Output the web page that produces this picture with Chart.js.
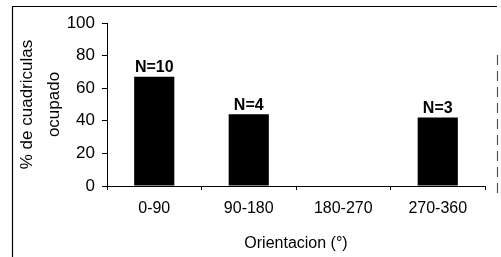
<!DOCTYPE html>
<html><head><meta charset="utf-8">
<script src="https://cdn.jsdelivr.net/npm/chart.js@4/dist/chart.umd.min.js"></script>
<style>html,body{margin:0;padding:0;background:#fff}canvas{display:block}</style>
</head><body>
<canvas id="c" width="501" height="257"></canvas>
<script>
const categories = ['0-90', '90-180', '180-270', '270-360'];
const values = [67, 44, 0, 42];
const barLabels = ['N=10', 'N=4', '', 'N=3'];
const yTicks = [0, 20, 40, 60, 80, 100];

const FONT = "'Liberation Sans', Arial, sans-serif";

const framePlugin = {
  id: 'frame',
  afterDraw(chart) {
    const ctx = chart.ctx;
    ctx.save();
    ctx.strokeStyle = '#000';
    ctx.lineWidth = 1.2;
    ctx.beginPath();
    ctx.moveTo(12.5, 257);
    ctx.lineTo(12.5, 6.5);
    ctx.lineTo(497, 6.5);
    ctx.stroke();
    ctx.setLineDash([10, 6]);
    ctx.strokeStyle = '#555';
    ctx.beginPath();
    ctx.moveTo(497.5, 55);
    ctx.lineTo(497.5, 195);
    ctx.stroke();
    ctx.restore();
  }
};

const labelPlugin = {
  id: 'barLabels',
  afterDatasetsDraw(chart) {
    const ctx = chart.ctx;
    const meta = chart.getDatasetMeta(0);
    ctx.save();
    ctx.font = 'bold 16px ' + FONT;
    ctx.fillStyle = '#000';
    ctx.textAlign = 'center';
    ctx.textBaseline = 'bottom';
    meta.data.forEach((bar, i) => {
      if (!barLabels[i]) return;
      ctx.fillText(barLabels[i], bar.x, bar.y - 1);
    });
    ctx.restore();
  }
};

new Chart(document.getElementById('c'), {
  type: 'bar',
  data: {
    labels: categories,
    datasets: [{
      data: values,
      backgroundColor: '#000',
      borderWidth: 0,
      barPercentage: 0.85,
      categoryPercentage: 0.5
    }]
  },
  options: {
    responsive: false,
    animation: false,
    devicePixelRatio: 1,
    layout: { padding: { left: 14, right: 16, top: 23, bottom: 4 } },
    plugins: { legend: { display: false }, tooltip: { enabled: false } },
    scales: {
      x: {
        offset: true,
        border: { display: true, color: '#000', width: 1 },
        grid: { display: true, drawOnChartArea: false, drawTicks: true, tickLength: 4, color: '#000', offset: true },
        ticks: { color: '#000', font: { family: FONT, size: 16 }, padding: 9, maxRotation: 0 },
        title: { display: true, text: 'Orientacion (°)', color: '#000', font: { family: FONT, size: 16 }, padding: { top: 4, bottom: 0 } },
        afterFit(scale) { scale.height = 67; }
      },
      y: {
        min: 0, max: 100,
        afterBuildTicks(scale) { scale.ticks = yTicks.map(v => ({ value: v })); },
        border: { display: true, color: '#000', width: 1 },
        grid: { display: true, drawOnChartArea: false, drawTicks: true, tickLength: 5, color: '#000' },
        ticks: { color: '#000', font: { family: FONT, size: 17 }, padding: 7 },
        title: { display: true, text: ['% de cuadriculas', 'ocupado'], color: '#000', font: { family: FONT, size: 17, lineHeight: 1.6 }, padding: { top: 0, bottom: 8 } },
        afterFit(scale) { scale.width = 93; }
      }
    }
  },
  plugins: [labelPlugin, framePlugin]
});
</script>
</body></html>
